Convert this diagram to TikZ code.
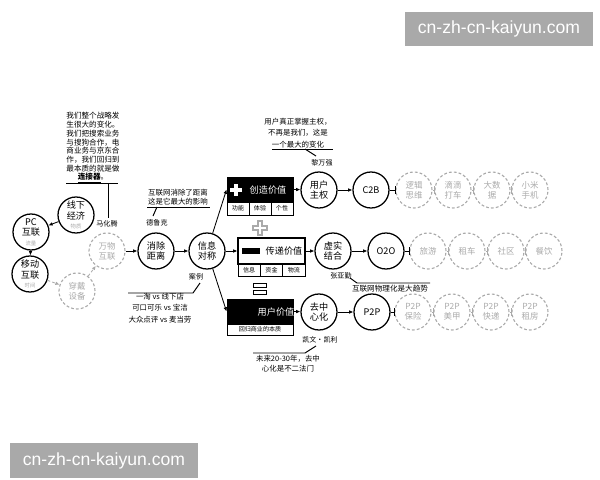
\documentclass[tikz,border=0pt]{standalone}
\usepackage{fontspec}
\setmainfont{Noto Sans CJK SC}
\newfontfamily\wmfont{Liberation Sans}
\usetikzlibrary{arrows.meta}
\definecolor{wmgray}{HTML}{A9A9A9}
\definecolor{lgray}{HTML}{AAAAAA}
\tikzset{
  circ/.style={circle, draw=black, line width=0.9pt, minimum size=0.9cm, inner sep=0pt, align=center, font=\fontsize{6.5}{7.5}\selectfont},
  dcirc/.style={circle, draw=lgray, dash pattern=on 2pt off 1.5pt, line width=0.8pt, minimum size=0.9cm, inner sep=0pt, align=center, text=lgray, font=\fontsize{6}{7}\selectfont},
  note/.style={align=center, inner sep=0pt, font=\fontsize{5.4}{6.2}\selectfont},
  who/.style={inner sep=0pt, font=\fontsize{5}{6}\selectfont},
  arr/.style={-{Latex[length=3pt,width=2.6pt]}, line width=0.6pt},
  darr/.style={-{Latex[length=3pt,width=2.6pt]}, line width=0.6pt, lgray, dash pattern=on 2pt off 1.5pt},
  barr/.style={-{Bar[width=5pt]}, line width=0.6pt},
  sub/.style={font=\fontsize{3.8}{4.2}\selectfont, text=lgray},
  cellbox/.style={draw, line width=0.6pt, inner sep=0pt, font=\fontsize{4.3}{5}\selectfont},
  annline/.style={line width=0.7pt},
  wm/.style={fill=wmgray, text=white, inner sep=0pt, font=\wmfont\fontsize{12.5}{14}\selectfont}
}
\begin{document}
\begin{tikzpicture}[x=0.025cm,y=-0.025cm]
\useasboundingbox (0,0) rectangle (600,480);

% watermarks
\node[wm, minimum width=4.7cm, minimum height=0.86cm] (wm1) at (499,29) {cn-zh-cn-kaiyun.com};
\node[wm, minimum width=4.7cm, minimum height=0.87cm] (wm2) at (104,460.5) {cn-zh-cn-kaiyun.com};

% left cluster
\node[circ] (pc) at (31,232) {PC\\互联\\[-1pt]{\fontsize{3.8}{4.2}\selectfont\color{lgray}流量}};
\node[circ] (yd) at (30,274) {移动\\互联\\[-1pt]{\fontsize{3.8}{4.2}\selectfont\color{lgray}时间}};
\node[circ] (xx) at (76,215) {线下\\经济\\[-1pt]{\fontsize{3.8}{4.2}\selectfont\color{lgray}物质}};
\node[dcirc] (wl) at (107,251) {万物\\互联};
\node[dcirc] (wear) at (77,291) {穿戴\\设备};
\node[circ] (xc) at (156,251) {消除\\距离};
\node[circ] (xs) at (207,251) {信息\\对称};

\draw[arr] (xx) -- (pc);
\draw[arr] (pc) -- (yd);
\draw[darr] (yd) -- (wear);
\draw[darr] (wear) -- (wl);
\draw[arr] (wl) -- (xc);
\draw[arr] (xc) -- (xs);

% value boxes
\node[fill=black, draw=black, line width=0.6pt, minimum width=1.65cm, minimum height=0.625cm, inner sep=0pt] (cz) at (260,189.5) {};
\fill[white] (230,189.5-2) rectangle (242,189.5+2);
\fill[white] (236-2,183.5) rectangle (236+2,195.5);
\node[text=white, font=\fontsize{6.5}{7.5}\selectfont] (czt) at (268,190) {创造价值};
\node[cellbox, minimum width=0.55cm, minimum height=0.325cm] (c1) at (238,208.5) {功能};
\node[cellbox, minimum width=0.55cm, minimum height=0.325cm] (c2) at (260,208.5) {体验};
\node[cellbox, minimum width=0.55cm, minimum height=0.325cm] (c3) at (282,208.5) {个性};

% gray plus
\draw[lgray, line width=0.8pt, fill=white]
  (258,221) -- (262,221) -- (262,226) -- (267,226) -- (267,230) -- (262,230) -- (262,235)
  -- (258,235) -- (258,230) -- (253,230) -- (253,226) -- (258,226) -- cycle;

\node[draw=black, line width=0.8pt, fill=white, minimum width=1.675cm, minimum height=0.65cm, inner sep=0pt] (cd) at (271.5,251) {};
\fill[black] (242,248) rectangle (260,254);
\node[font=\fontsize{6.5}{7.5}\selectfont] (cdt) at (284,251) {传递价值};
\node[cellbox, minimum width=0.558cm, minimum height=0.3cm] (d1) at (249.2,270) {信息};
\node[cellbox, minimum width=0.558cm, minimum height=0.3cm] (d2) at (271.5,270) {资金};
\node[cellbox, minimum width=0.558cm, minimum height=0.3cm] (d3) at (293.8,270) {物流};

% equal sign
\draw[line width=0.7pt] (253.5,283) rectangle (266.5,287);
\draw[line width=0.7pt] (253.5,290) rectangle (266.5,294);

\node[fill=black, draw=black, line width=0.6pt, minimum width=1.65cm, minimum height=0.625cm, inner sep=0pt] (yj) at (260,311.5) {};
\node[text=white, font=\fontsize{6.5}{7.5}\selectfont] (yjt) at (276,312) {用户价值};
\node[cellbox, minimum width=1.65cm, minimum height=0.275cm] (yjr) at (260,329.5) {回归商业的本质};

\draw[arr] (xs) -- (cz.west);
\draw[arr] (xs) -- (cd.west);
\draw[arr] (xs) -- (yj.west);

% row 1
\node[circ] (yh) at (319,190) {用户\\主权};
\node[circ] (c2b) at (371,190) {C2B};
\node[dcirc] (r1a) at (414,190) {逻辑\\思维};
\node[dcirc] (r1b) at (453,190) {滴滴\\打车};
\node[dcirc] (r1c) at (492,190) {大数\\据};
\node[dcirc] (r1d) at (530,190) {小米\\手机};
\draw[arr] (cz.east) -- (yh);
\draw[arr] (yh) -- (c2b);
\draw[barr] (c2b) -- (r1a);
\draw[barr, lgray] (r1a) -- (r1b);
\draw[barr, lgray] (r1b) -- (r1c);
\draw[barr, lgray] (r1c) -- (r1d);

% row 2
\node[circ] (xsj) at (333,251) {虚实\\结合};
\node[circ] (o2o) at (386,251) {O2O};
\node[dcirc] (r2a) at (428,251) {旅游};
\node[dcirc] (r2b) at (467,251) {租车};
\node[dcirc] (r2c) at (506,251) {社区};
\node[dcirc] (r2d) at (544,251) {餐饮};
\draw[arr] (cd.east) -- (xsj);
\draw[arr] (xsj) -- (o2o);
\draw[barr] (o2o) -- (r2a);
\draw[barr, lgray] (r2a) -- (r2b);
\draw[barr, lgray] (r2b) -- (r2c);
\draw[barr, lgray] (r2c) -- (r2d);

% row 3
\node[circ] (qzx) at (319,312) {去中\\心化};
\node[circ] (p2p) at (372,312) {P2P};
\node[dcirc] (r3a) at (413,312) {P2P\\保险};
\node[dcirc] (r3b) at (452,312) {P2P\\美甲};
\node[dcirc] (r3c) at (491,312) {P2P\\快递};
\node[dcirc] (r3d) at (530,312) {P2P\\租房};
\draw[arr] (yj.east) -- (qzx);
\draw[arr] (qzx) -- (p2p);
\draw[barr] (p2p) -- (r3a);
\draw[barr, lgray] (r3a) -- (r3b);
\draw[barr, lgray] (r3b) -- (r3c);
\draw[barr, lgray] (r3c) -- (r3d);

% annotation 1
\node[note] (n1) at (93,148) {我们整个战略发\\生很大的变化。\\我们把搜索业务\\与搜狗合作，电\\商业务与京东合\\作，我们回归到\\最本质的就是做\\\underline{\textbf{连接器}}。};
\coordinate (n1a) at (66,183); \coordinate (n1b) at (118,183);
\coordinate (n1c) at (108,183); \coordinate (n1d) at (108,218);
\draw[annline] (n1a) -- (n1b);
\draw[annline] (n1c) -- (n1d);
\node[who] (mht) at (107,224) {马化腾};

% annotation 2
\node[note, font=\fontsize{5.3}{6.6}\selectfont] (n2) at (178,197) {互联网消除了距离\\这是它最大的影响};
\coordinate (n2a) at (147,207); \coordinate (n2b) at (210,207);
\coordinate (n2c) at (157,207); \coordinate (n2d) at (153,216);
\draw[annline] (n2a) -- (n2b);
\draw[annline] (n2c) -- (n2d);
\node[who] (dlk) at (157,223) {德鲁克};

% annotation 3 (cases)
\node[who] (al) at (196,277) {案例};
\coordinate (n3a) at (128,293); \coordinate (n3b) at (193,293); \coordinate (n3c) at (200,283);
\draw[annline] (n3a) -- (n3b) -- (n3c);
\node[note, font=\fontsize{5.3}{8}\selectfont] (n3) at (160,308) {一淘 vs 线下店\\可口可乐 vs 宝洁\\大众点评 vs 麦当劳};

% annotation 4
\node[note, font=\fontsize{5.3}{8}\selectfont] (n4) at (298,133) {用户真正掌握主权，\\不再是我们，这是\\一个最大的变化};
\coordinate (n4a) at (272,149); \coordinate (n4b) at (333,149);
\coordinate (n4c) at (305,149); \coordinate (n4d) at (316,156);
\draw[annline] (n4a) -- (n4b);
\draw[annline] (n4c) -- (n4d);
\node[who] (lwq) at (322,163) {黎万强};

% annotation 5
\node[who] (zyq) at (341,276) {张亚勤};
\coordinate (n5a) at (350,278); \coordinate (n5b) at (357,283); \coordinate (n5c) at (430,283);
\draw[annline] (n5a) -- (n5b) -- (n5c);
\node[note] (n5) at (390,289) {互联网物理化是大趋势};

% annotation 6
\node[who] (kk) at (320,340) {凯文·凯利};
\coordinate (n6a) at (253,353); \coordinate (n6b) at (305,353); \coordinate (n6c) at (316,346);
\draw[annline] (n6a) -- (n6b) -- (n6c);
\node[note, font=\fontsize{5.3}{7}\selectfont] (n6) at (288,364) {未来20-30年，去中\\心化是不二法门};

\end{tikzpicture}
\end{document}
